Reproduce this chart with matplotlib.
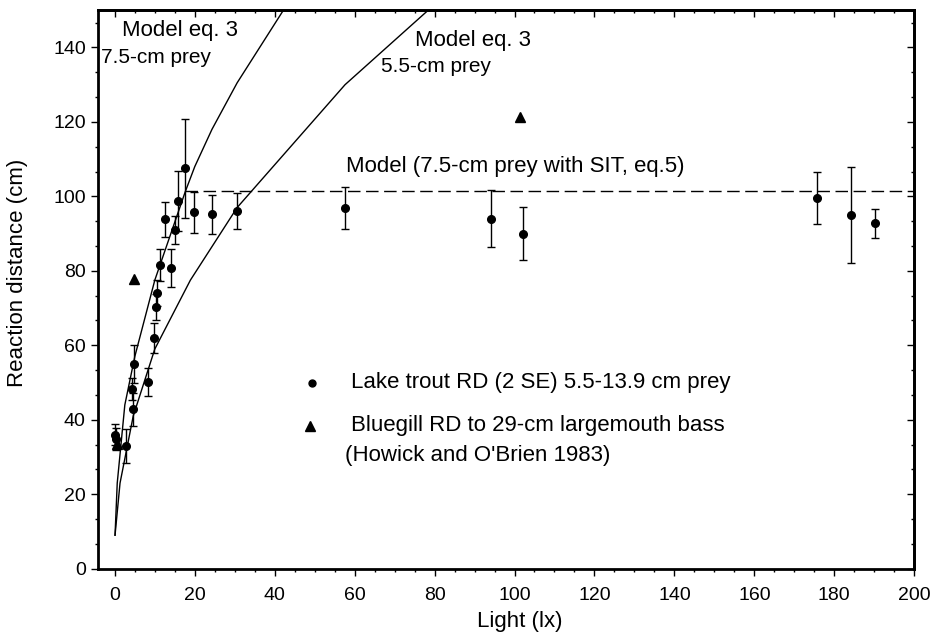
import matplotlib
matplotlib.use("Agg")
import matplotlib.pyplot as plt
from matplotlib.ticker import MultipleLocator

plt.rcParams['font.family'] = ['Liberation Sans', 'DejaVu Sans']

# Lake trout reaction distance (mean, 2 SE)
light = [0.0, 0.4, 2.9, 4.4, 4.6, 4.9, 8.4, 9.8, 10.3, 10.5, 11.4, 12.6, 14.0,
         15.1, 15.7, 17.6, 19.7, 24.3, 30.6, 57.6, 94.0, 102.2, 175.6, 184.2, 190.3]
rd = [36.0, 34.8, 33.0, 48.2, 42.8, 55.0, 50.1, 61.9, 70.4, 74.0, 81.6, 93.8, 80.7,
      91.0, 98.7, 107.5, 95.7, 95.2, 96.1, 96.9, 94.0, 90.0, 99.6, 95.0, 92.8]
se2 = [2.9, 3.0, 4.6, 3.0, 4.4, 5.1, 3.8, 4.0, 3.5, 3.5, 4.2, 4.8, 5.1,
       3.7, 8.1, 13.4, 5.5, 5.2, 4.8, 5.6, 7.7, 7.2, 7.0, 13.0, 3.9]

# Bluegill RD to largemouth bass (Howick and O'Brien 1983)
bg_light = [0.5, 4.8, 101.4]
bg_rd = [33.5, 77.7, 121.3]

# Model eq. 3 curves
m75_light = [0.05, 0.6, 2.5, 5.0, 10.0, 17.6, 20.0, 24.3, 30.6, 57.6]
m75_rd = [9.0, 23.0, 44.0, 57.0, 77.5, 101.2, 108.0, 118.0, 130.5, 176.0]
m55_light = [0.05, 1.3, 4.6, 10.0, 18.9, 30.6, 57.6, 94.0]
m55_rd = [9.0, 23.0, 41.0, 59.0, 77.5, 97.0, 130.0, 165.0]

# Model with SIT (eq. 5)
sit_light = [17.6, 200.0]
sit_rd = [101.5, 101.5]

fig = plt.figure(figsize=(9.3, 6.39), dpi=100)
ax = fig.add_axes([0.105, 0.11, 0.878, 0.874])

ax.plot(m75_light, m75_rd, color="black", lw=1.0)
ax.plot(m55_light, m55_rd, color="black", lw=1.0)
ax.plot(sit_light, sit_rd, color="black", lw=1.0, dashes=(9, 4))

ax.errorbar(light, rd, yerr=se2, fmt="o", color="black", ms=5.5,
            capsize=3, elinewidth=1.0, capthick=1.0)
ax.plot(bg_light, bg_rd, "^", color="black", ms=7)

# text labels
ax.text(1.8, 144.5, "Model eq. 3", fontsize=16, va="center")
ax.text(-3.4, 137.3, "7.5-cm prey", fontsize=15, va="center")
ax.text(75, 142, "Model eq. 3", fontsize=16, va="center")
ax.text(66.5, 134.8, "5.5-cm prey", fontsize=15, va="center")
ax.text(57.8, 108, "Model (7.5-cm prey with SIT, eq.5)", fontsize=16, va="center")

# legend drawn by hand
ax.plot([49.3], [49.9], "o", color="black", ms=5)
ax.text(59, 49.9, "Lake trout RD (2 SE) 5.5-13.9 cm prey", fontsize=16, va="center")
ax.plot([48.8], [38.4], "^", color="black", ms=6.5)
ax.text(59, 38.4, "Bluegill RD to 29-cm largemouth bass", fontsize=16, va="center")
ax.text(57.6, 30.3, "(Howick and O'Brien 1983)", fontsize=16, va="center")

ax.set_xlim(-4.3, 200)
ax.set_ylim(0, 150)
ax.xaxis.set_major_locator(MultipleLocator(20))
ax.xaxis.set_minor_locator(MultipleLocator(5))
ax.yaxis.set_minor_locator(MultipleLocator(20 / 3))
ax.set_yticks([0, 20, 40, 60, 80, 100, 120, 140])

for s in ax.spines.values():
    s.set_linewidth(2)

ax.tick_params(which="both", direction="out", top=False, right=False, labelsize=14)
ax.tick_params(which="major", length=5, width=1)
ax.tick_params(which="minor", length=2.5, width=1)
ax.tick_params(axis="x", which="major", pad=8)
sx = ax.secondary_xaxis("top")
sx.xaxis.set_major_locator(MultipleLocator(20))
sx.xaxis.set_minor_locator(MultipleLocator(5))
sx.tick_params(which="both", direction="in", labeltop=False, width=1)
sx.tick_params(which="major", length=5)
sx.tick_params(which="minor", length=2.5)
sx.spines["top"].set_linewidth(2)
sy = ax.secondary_yaxis("right")
sy.yaxis.set_major_locator(MultipleLocator(20))
sy.yaxis.set_minor_locator(MultipleLocator(20 / 3))
sy.tick_params(which="both", direction="in", labelright=False, width=1)
sy.tick_params(which="major", length=5)
sy.tick_params(which="minor", length=2.5)
sy.spines["right"].set_linewidth(2)

ax.set_xlabel("Light (lx)", fontsize=16, labelpad=2)
ax.set_ylabel("Reaction distance (cm)", fontsize=16, labelpad=6)
ax.xaxis.set_label_coords(0.517, -0.075)
ax.yaxis.set_label_coords(-0.085, 0.53)

fig.savefig("out.png", dpi=100)
